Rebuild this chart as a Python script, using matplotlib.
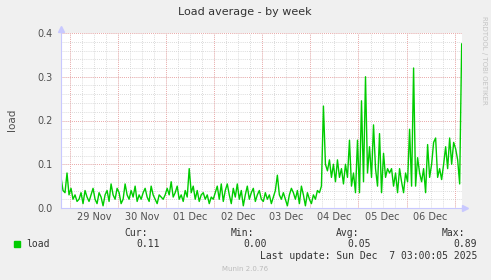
import numpy as np
import pandas as pd
import matplotlib
matplotlib.use("Agg")
import matplotlib.pyplot as plt
import matplotlib.dates as mdates

# hourly load samples, starting Nov 28 19:30
load_nov28 = [0.07, 0.04, 0.035, 0.08, 0.03]
load_nov29 = [0.045, 0.02, 0.03, 0.015, 0.02, 0.035, 0.01, 0.04, 0.025, 0.015, 0.03, 0.045,
              0.02, 0.01, 0.035, 0.025, 0.005, 0.03, 0.04, 0.015, 0.055, 0.03, 0.02, 0.045]
load_nov30 = [0.035, 0.01, 0.02, 0.055, 0.03, 0.02, 0.04, 0.025, 0.05, 0.015, 0.03, 0.02,
              0.035, 0.045, 0.025, 0.015, 0.05, 0.03, 0.02, 0.01, 0.03, 0.025, 0.02, 0.03]
load_dec01 = [0.045, 0.03, 0.06, 0.025, 0.035, 0.05, 0.02, 0.03, 0.015, 0.04, 0.025, 0.09,
              0.035, 0.05, 0.02, 0.04, 0.015, 0.03, 0.035, 0.02, 0.03, 0.01, 0.025, 0.02]
load_dec02 = [0.035, 0.05, 0.02, 0.055, 0.015, 0.04, 0.055, 0.03, 0.01, 0.045, 0.025, 0.055,
              0.02, 0.04, 0.005, 0.03, 0.05, 0.02, 0.035, 0.045, 0.015, 0.03, 0.04, 0.02]
load_dec03 = [0.015, 0.035, 0.02, 0.03, 0.01, 0.025, 0.04, 0.075, 0.03, 0.02, 0.035, 0.02,
              0.005, 0.03, 0.045, 0.035, 0.02, 0.04, 0.01, 0.05, 0.03, 0.005, 0.035, 0.02]
load_dec04 = [0.01, 0.03, 0.02, 0.04, 0.035, 0.05, 0.233, 0.1, 0.085, 0.11, 0.07, 0.1,
              0.06, 0.11, 0.07, 0.09, 0.055, 0.1, 0.07, 0.155, 0.05, 0.08, 0.035, 0.155]
load_dec05 = [0.035, 0.245, 0.06, 0.30, 0.08, 0.14, 0.07, 0.19, 0.09, 0.05, 0.17, 0.035,
              0.125, 0.07, 0.09, 0.08, 0.09, 0.05, 0.08, 0.035, 0.09, 0.06, 0.035, 0.08]
load_dec06 = [0.06, 0.18, 0.05, 0.32, 0.05, 0.115, 0.08, 0.06, 0.09, 0.035, 0.145, 0.07,
              0.10, 0.15, 0.16, 0.07, 0.09, 0.065, 0.10, 0.14, 0.09, 0.16, 0.10, 0.15]
load_dec07 = [0.135, 0.11, 0.055, 0.375]

load = (load_nov28 + load_nov29 + load_nov30 + load_dec01 + load_dec02 +
        load_dec03 + load_dec04 + load_dec05 + load_dec06 + load_dec07)
times = pd.date_range("2025-11-28 19:30", periods=len(load), freq="h")

t_start = pd.Timestamp("2025-11-28 19:30")
t_end = pd.Timestamp("2025-12-07 03:40")

legend_stats = ["0.11", "0.00", "0.05", "0.89"]
stat_names = ["Cur:", "Min:", "Avg:", "Max:"]

bg = "#F0F0F0"
green = "#00CC00"
axis_col = "#C8C8FF"

fig = plt.figure(figsize=(4.91, 2.80), dpi=100, facecolor=bg)
ax = fig.add_axes([61 / 491, 1 - 208 / 280, 401 / 491, 175 / 280])
ax.set_facecolor("white")

ax.set_xlim(t_start, t_end)
ax.set_ylim(0, 0.4)

# gray minor grid every 6h / 0.02
six_h = pd.date_range("2025-11-28 00:00", "2025-12-08", freq="6h")
for t in six_h:
    ax.axvline(t, color="#CFCFCF", lw=0.6, ls=(0, (1, 1.5)), zorder=1)
for v in np.arange(0, 0.41, 0.02):
    ax.axhline(v, color="#CFCFCF", lw=0.6, ls=(0, (1, 1.5)), zorder=1)
# red major grid at midnight / 0.1
days = pd.date_range("2025-11-28", "2025-12-08", freq="D")
for t in days:
    ax.axvline(t, color="#F29A9A", lw=0.6, ls=(0, (1, 1.5)), zorder=2)
for v in np.arange(0.1, 0.41, 0.1):
    ax.axhline(v, color="#F29A9A", lw=0.6, ls=(0, (1, 1.5)), zorder=2)

ax.plot(times, load, color=green, lw=1.0, zorder=3)

noons = pd.date_range("2025-11-29 12:00", "2025-12-06 12:00", freq="D")
ax.set_xticks(noons)
ax.xaxis.set_major_formatter(mdates.DateFormatter("%d %b"))
ax.set_yticks([0.0, 0.1, 0.2, 0.3, 0.4])
ax.set_yticklabels(["0.0", "0.1", "0.2", "0.3", "0.4"])
ax.tick_params(axis="both", length=0, labelsize=7, labelcolor="#505050")
ax.tick_params(axis="x", pad=3)
ax.tick_params(axis="y", pad=6)

for s in ["top", "right"]:
    ax.spines[s].set_visible(False)
for s in ["left", "bottom"]:
    ax.spines[s].set_color(axis_col)
    ax.spines[s].set_linewidth(0.8)
    ax.spines[s].set_zorder(4)
ax.plot([0, 0], [1, 1.025], color=axis_col, lw=0.8, transform=ax.transAxes, clip_on=False)
ax.plot([0], [1.025], marker="^", ms=4, color=axis_col, transform=ax.transAxes, clip_on=False)
ax.plot([1, 1.008], [0, 0], color=axis_col, lw=0.8, transform=ax.transAxes, clip_on=False)
ax.plot([1.008], [0], marker=">", ms=4, color=axis_col, transform=ax.transAxes, clip_on=False)

fig.text(245 / 491, 1 - 12 / 280, "Load average - by week", ha="center", va="center",
         fontsize=8, color="#333333")
fig.text(12 / 491, 1 - 120 / 280, "load", rotation=90, ha="center", va="center",
         fontsize=7.5, color="#505050")
fig.text(484 / 491, 1 - 60 / 280, "RRDTOOL / TOBI OETIKER", rotation=270, ha="center",
         va="center", fontsize=5, color="#C4C4C4")

mono = "DejaVu Sans Mono"
fig.patches.append(plt.Rectangle((14 / 491, 1 - 247 / 280), 6 / 491, 6 / 280,
                                 transform=fig.transFigure, color=green))
fig.text(26 / 491, 1 - 244 / 280, "load", ha="left", va="center", family=mono,
         fontsize=7, color="#333333")
name_x = [148, 254, 359, 465]
val_x = [160, 267, 371, 477]
for nm, nx, val, vx in zip(stat_names, name_x, legend_stats, val_x):
    fig.text(nx / 491, 1 - 233 / 280, nm, ha="right", va="center", family=mono,
             fontsize=7, color="#333333")
    fig.text(vx / 491, 1 - 244 / 280, val, ha="right", va="center", family=mono,
             fontsize=7, color="#333333")
fig.text(477 / 491, 1 - 256 / 280, "Last update: Sun Dec  7 03:00:05 2025", ha="right",
         va="center", family=mono, fontsize=7, color="#333333")
fig.text(245 / 491, 1 - 269 / 280, "Munin 2.0.76", ha="center", va="center",
         fontsize=5, color="#BBBBBB")

fig.savefig("out.png", dpi=100, facecolor=bg)
